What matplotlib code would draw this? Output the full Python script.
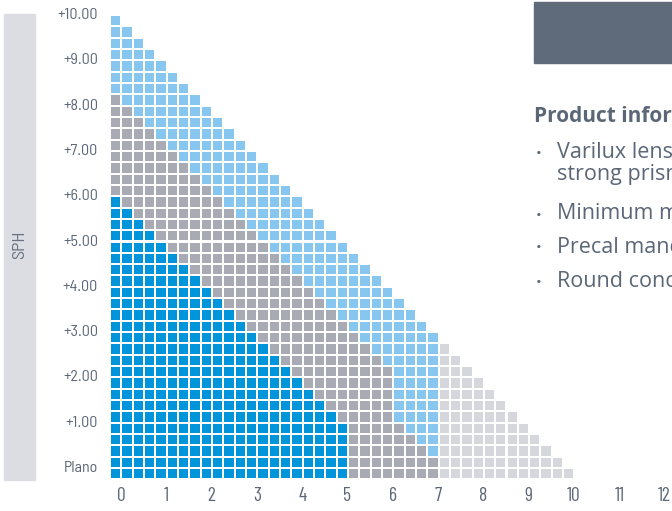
import matplotlib
matplotlib.use("Agg")
import matplotlib.pyplot as plt

# rows from Plano (0.00) up to +10.00 in 0.25 steps
sph_values = [i * 0.25 for i in range(41)]
sph_tick_labels = ["Plano", "+1.00", "+2.00", "+3.00", "+4.00", "+5.00",
                   "+6.00", "+7.00", "+8.00", "+9.00", "+10.00"]
cyl_tick_labels = ["0", "1", "2", "3", "4", "5", "6", "7", "8", "9", "10", "11", "12"]

# number of cells of each colour per row, left to right, row 0 = Plano
dark_blue_cells = [21, 21, 21, 21, 21, 20, 19, 18, 17, 16, 15, 14, 13, 12, 11, 10,
                   9, 8, 7, 6, 5, 4, 3, 2, 1, 0, 0, 0, 0, 0, 0, 0, 0, 0, 0, 0,
                   0, 0, 0, 0, 0]
gray_cells = [8, 8, 7, 6, 5, 5, 6, 7, 8, 9, 9, 9, 9, 9, 9, 9,
              9, 9, 9, 9, 9, 9, 9, 9, 9, 9, 8, 7, 6, 5, 4, 3, 2, 1, 0, 0,
              0, 0, 0, 0, 0]
light_blue_cells = [0, 0, 1, 2, 3, 4, 4, 4, 4, 4, 5, 6, 7, 7, 7, 7,
                    7, 7, 7, 7, 7, 7, 7, 7, 7, 7, 7, 7, 7, 7, 7, 7, 7, 7, 7, 6,
                    5, 4, 3, 2, 1]
light_gray_cells = [12, 11, 10, 9, 8, 7, 6, 5, 4, 3, 2, 1, 0, 0, 0, 0,
                    0, 0, 0, 0, 0, 0, 0, 0, 0, 0, 0, 0, 0, 0, 0, 0, 0, 0, 0, 0,
                    0, 0, 0, 0, 0]

bullets = ["Varilux lenses available with\nstrong prism",
           "Minimum mounting height",
           "Precal mandatory",
           "Round concept"]

DARK_BLUE = "#0095da"
LIGHT_BLUE = "#86c6ef"
GRAY = "#a8abb3"
LIGHT_GRAY = "#d6d7dc"
TEXT = "#5b6677"

W, H = 672, 511
fig = plt.figure(figsize=(W / 100, H / 100), dpi=100)
ax = fig.add_axes([0, 0, 1, 1])

# pixel mapping: cyl c -> x = 121 + 45.3*c, sph s -> y(top) = 15 + 45.3*(10-s)
ux, uy = 45.3, 45.3
ax.set_xlim(-121 / ux, (W - 121) / ux)
ax.set_ylim(10 - (H - 15) / uy, 10 + 15 / uy)
ax.axis("off")

step = 0.25
gap = 0.045
colors = [DARK_BLUE, GRAY, LIGHT_BLUE, LIGHT_GRAY]
groups = [dark_blue_cells, gray_cells, light_blue_cells, light_gray_cells]

xs, ys, cs = [], [], []
for r, s in enumerate(sph_values):
    k = 0
    for color, counts in zip(colors, groups):
        for _ in range(counts[r]):
            c = k * step
            xs.append(c - step / 2 + 0.01)
            ys.append(s - step + gap / 2)
            cs.append(color)
            k += 1

ax.bar(xs, [step - gap] * len(xs), bottom=ys, width=step - gap,
       color=cs, linewidth=0)

semi = ["Barlow Semi Condensed", "DejaVu Sans"]
cond = ["Barlow Condensed", "DejaVu Sans"]

# y tick labels (aligned with top edge of each integer row)
for i, lab in enumerate(sph_tick_labels):
    ax.text(-23 / ux, float(i), lab, ha="right", va="center", fontsize=11.5,
            color=TEXT, family=semi)

# x tick labels
for i, lab in enumerate(cyl_tick_labels):
    ax.text(float(i), 10 - (496 - 15) / uy, lab, ha="center", va="center",
            fontsize=14, color=TEXT, family=cond)

# SPH side bar
fig.patches.append(plt.Rectangle((4 / W, 1 - 480 / H), 31 / W, 466 / H,
                                 transform=fig.transFigure, color="#dcdde2",
                                 zorder=0))
fig.text(20 / W, 1 - 245 / H, "SPH", rotation=90, ha="center", va="center",
         fontsize=13, color="#687282", family=semi)

# right panel
fig.patches.append(plt.Rectangle((534 / W, 1 - 63 / H), 140 / W, 61 / H,
                                 transform=fig.transFigure, color="#5f6b7a",
                                 zorder=0))
fig.text(534 / W, 1 - 116 / H, "Product information", ha="left", va="center",
         fontsize=15, fontweight="bold", color=TEXT, family="Open Sans")

bullet_y = [154, 216, 249, 283]
for y, txt in zip(bullet_y, bullets):
    fig.text(539 / W, 1 - y / H, "\u2022", ha="center", va="center",
             fontsize=11, color=TEXT, family="Open Sans")
    fig.text(557 / W, 1 - (y - 12.5) / H, txt, ha="left", va="top",
             fontsize=15.5, color=TEXT, family="Open Sans", linespacing=1.07)

fig.savefig("out.png", dpi=100)
